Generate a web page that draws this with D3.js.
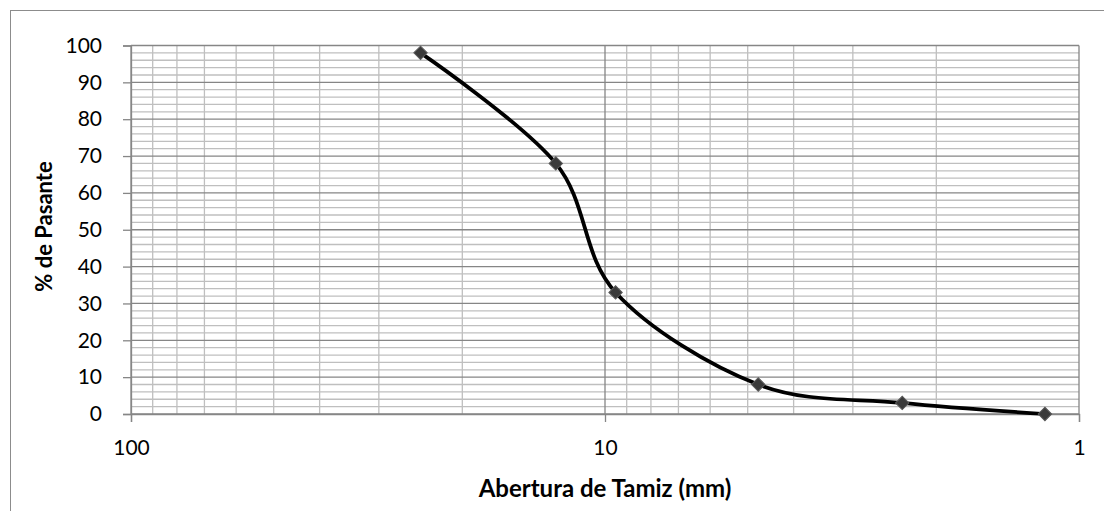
<!DOCTYPE html>
<html>
<head>
<meta charset="utf-8">
<script src="https://cdn.jsdelivr.net/npm/d3@7"></script>
<style>
html,body{margin:0;padding:0;background:#fff;}
svg{display:block;}
text{font-family:Lato,"Open Sans",sans-serif;fill:#000;}
</style>
</head>
<body>
<svg id="chart" width="1104" height="511"></svg>
<script>
// Data
const aperture = [24.5, 12.7, 9.5, 4.75, 2.36, 1.18];   // mm
const passing  = [98, 68, 33, 8, 3, 0];                 // %
const yTickValues = [0, 10, 20, 30, 40, 50, 60, 70, 80, 90, 100];
const xTickValues = [100, 10, 1];
const xTitle = "Abertura de Tamiz (mm)";
const yTitle = "% de Pasante";

const W = 1104, H = 511;
const plot = {left: 131, right: 1079, top: 45.5, bottom: 414};

const svg = d3.select("#chart");

// chart border
svg.append("rect")
  .attr("x", 10.5).attr("y", 10.5)
  .attr("width", 1200).attr("height", 700)
  .attr("fill", "none").attr("stroke", "#8c8c8c").attr("stroke-width", 1);

const x = d3.scaleLog().domain([100, 1]).range([plot.left, plot.right]);
const y = d3.scaleLinear().domain([0, 100]).range([plot.bottom, plot.top]);

const g = svg.append("g");

// minor vertical gridlines (log)
const minorX = [];
for (let dec of [10, 1]) for (let k = 2; k <= 9; k++) minorX.push(dec * k);
g.selectAll("line.vmin").data(minorX).enter().append("line")
  .attr("x1", d => x(d)).attr("x2", d => x(d))
  .attr("y1", plot.top).attr("y2", plot.bottom)
  .attr("stroke", "#bfbfbf").attr("stroke-width", 1.3);

// minor horizontal gridlines every 2
const minorY = d3.range(0, 101, 2).filter(v => v % 10 !== 0);
g.selectAll("line.hmin").data(minorY).enter().append("line")
  .attr("x1", plot.left).attr("x2", plot.right)
  .attr("y1", d => y(d)).attr("y2", d => y(d))
  .attr("stroke", "#bfbfbf").attr("stroke-width", 1.3);

// major vertical gridlines
g.selectAll("line.vmaj").data(xTickValues).enter().append("line")
  .attr("x1", d => x(d)).attr("x2", d => x(d))
  .attr("y1", plot.top).attr("y2", plot.bottom)
  .attr("stroke", "#868686").attr("stroke-width", 1.3);

// major horizontal gridlines
g.selectAll("line.hmaj").data(yTickValues).enter().append("line")
  .attr("x1", plot.left).attr("x2", plot.right)
  .attr("y1", d => y(d)).attr("y2", d => y(d))
  .attr("stroke", "#868686").attr("stroke-width", 1.3);

// Y axis
const yAxis = d3.axisLeft(y).tickValues(yTickValues).tickSize(8).tickPadding(21).tickFormat(d3.format("d"));
const ya = svg.append("g").attr("transform", `translate(${plot.left},0)`).call(yAxis);
ya.select(".domain").attr("stroke", "#868686").attr("stroke-width", 1.3);
ya.selectAll(".tick line").attr("stroke", "#868686").attr("stroke-width", 1.3);
ya.selectAll(".tick text").attr("font-size", 21).attr("font-family", "Lato").attr("fill", "#000");

// X axis
const xAxis = d3.axisBottom(x).tickValues(xTickValues).tickSize(8).tickPadding(18).tickFormat(d3.format("d"));
const xa = svg.append("g").attr("transform", `translate(0,${plot.bottom})`).call(xAxis);
xa.select(".domain").attr("stroke", "#868686").attr("stroke-width", 1.3);
xa.selectAll(".tick line").attr("stroke", "#868686").attr("stroke-width", 1.3);
xa.selectAll(".tick text").attr("font-size", 21).attr("font-family", "Lato").attr("fill", "#000");

// Titles
svg.append("text")
  .attr("x", (plot.left + plot.right) / 2).attr("y", 497)
  .attr("text-anchor", "middle").attr("font-size", 24).attr("font-weight", "bold")
  .text(xTitle);

svg.append("text")
  .attr("transform", `translate(52,226.5) rotate(-90)`)
  .attr("text-anchor", "middle").attr("font-size", 22).attr("font-weight", "bold")
  .text(yTitle);

// Series
const pts = aperture.map((a, i) => [a, passing[i]]);
const line = d3.line().x(d => x(d[0])).y(d => y(d[1])).curve(d3.curveCardinal.tension(0));
svg.append("path").datum(pts)
  .attr("d", line).attr("fill", "none").attr("stroke", "#000").attr("stroke-width", 3.75);

const sym = d3.symbol().type(d3.symbolSquare).size(90);
svg.selectAll("path.mk").data(pts).enter().append("path")
  .attr("class", "mk")
  .attr("d", sym)
  .attr("transform", d => `translate(${x(d[0])},${y(d[1])}) rotate(45)`)
  .attr("fill", "#3a3a3a").attr("stroke", "#5a5a5a").attr("stroke-width", 1);
</script>
</body>
</html>
